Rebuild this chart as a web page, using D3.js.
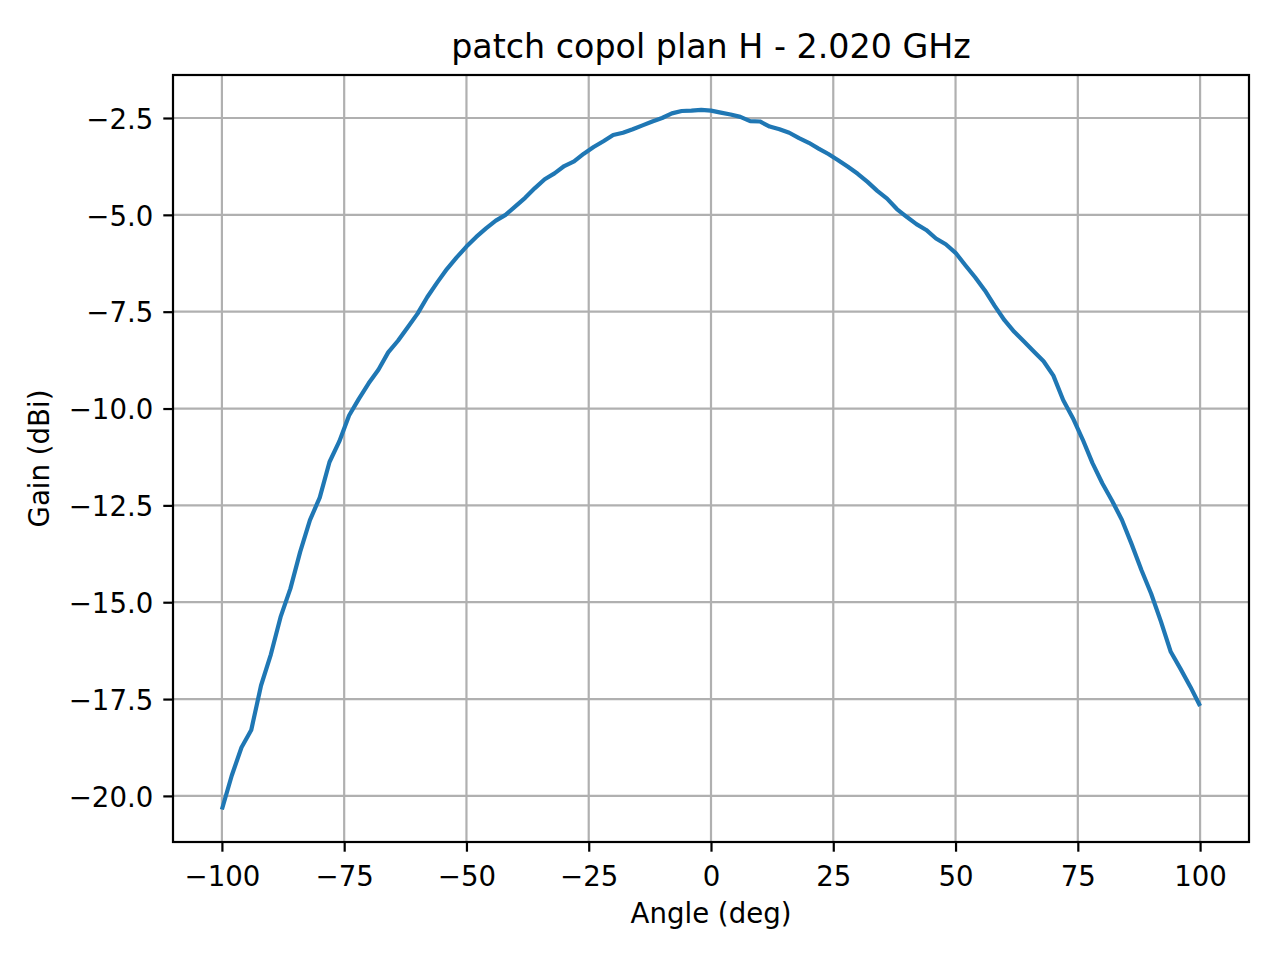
<!DOCTYPE html>
<html>
<head>
<meta charset="utf-8">
<script src="https://cdn.jsdelivr.net/npm/d3@7"></script>
<style>
  html, body { margin: 0; padding: 0; background: #fff; }
  svg { display: block; font-family: "DejaVu Sans", sans-serif; }
</style>
</head>
<body>
<svg id="chart" width="1280" height="960"></svg>
<script>
const angles = [
  -100, -98, -96, -94, -92, -90, -88, -86, -84, -82,
  -80, -78, -76, -74, -72, -70, -68, -66, -64, -62,
  -60, -58, -56, -54, -52, -50, -48, -46, -44, -42,
  -40, -38, -36, -34, -32, -30, -28, -26, -24, -22,
  -20, -18, -16, -14, -12, -10, -8, -6, -4, -2,
  0, 2, 4, 6, 8, 10, 12, 14, 16, 18,
  20, 22, 24, 26, 28, 30, 32, 34, 36, 38,
  40, 42, 44, 46, 48, 50, 52, 54, 56, 58,
  60, 62, 64, 66, 68, 70, 72, 74, 76, 78,
  80, 82, 84, 86, 88, 90, 92, 94, 96, 98, 100
];
const gains = [
  -20.35, -19.48, -18.75, -18.30, -17.15, -16.35, -15.38, -14.65, -13.70, -12.88,
  -12.30, -11.38, -10.85, -10.18, -9.75, -9.35, -9.00, -8.55, -8.25, -7.90,
  -7.55, -7.12, -6.75, -6.40, -6.10, -5.82, -5.57, -5.35, -5.15, -5.00,
  -4.78, -4.56, -4.31, -4.08, -3.93, -3.74, -3.62, -3.42, -3.25, -3.10,
  -2.94, -2.88, -2.79, -2.69, -2.59, -2.50, -2.38, -2.32, -2.31, -2.29,
  -2.31, -2.36, -2.41, -2.47, -2.58, -2.59, -2.72, -2.79, -2.88, -3.02,
  -3.14, -3.29, -3.43, -3.59, -3.76, -3.94, -4.15, -4.38, -4.58, -4.85,
  -5.05, -5.24, -5.39, -5.61, -5.76, -5.98, -6.30, -6.61, -6.95, -7.35,
  -7.72, -8.02, -8.27, -8.53, -8.78, -9.15, -9.78, -10.25, -10.80, -11.41,
  -11.93, -12.38, -12.87, -13.50, -14.17, -14.78, -15.50, -16.28, -16.72, -17.18, -17.68
];
const xTicks = [-100, -75, -50, -25, 0, 25, 50, 75, 100];
const yTicks = [-20.0, -17.5, -15.0, -12.5, -10.0, -7.5, -5.0, -2.5];
const xDomain = [-110, 110];
const yDomain = [-21.19, -1.39];
const titleText = "patch copol plan H - 2.020 GHz";
const xLabel = "Angle (deg)";
const yLabel = "Gain (dBi)";

const L = 173, R = 1249, T = 75, B = 842;
const svg = d3.select("#chart");
const x = d3.scaleLinear().domain(xDomain).range([L, R]);
const y = d3.scaleLinear().domain(yDomain).range([B, T]);
const fmtX = d => (d < 0 ? "\u2212" : "") + Math.abs(d);
const fmtY = d => (d < 0 ? "\u2212" : "") + Math.abs(d).toFixed(1);

// grid
const grid = svg.append("g");
grid.selectAll("line.gx").data(xTicks).join("line")
  .attr("x1", d => x(d)).attr("x2", d => x(d)).attr("y1", T).attr("y2", B)
  .attr("stroke", "#b0b0b0").attr("stroke-width", 2.2);
grid.selectAll("line.gy").data(yTicks).join("line")
  .attr("y1", d => y(d)).attr("y2", d => y(d)).attr("x1", L).attr("x2", R)
  .attr("stroke", "#b0b0b0").attr("stroke-width", 2.2);

// line
const pts = angles.map((a, i) => [a, gains[i]]);
svg.append("path").datum(pts)
  .attr("fill", "none").attr("stroke", "#1f77b4").attr("stroke-width", 4.2)
  .attr("stroke-linejoin", "round").attr("stroke-linecap", "butt")
  .attr("d", d3.line().x(d => x(d[0])).y(d => y(d[1])));

// axes
const xAxis = svg.append("g").attr("transform", `translate(0,${B})`)
  .call(d3.axisBottom(x).tickValues(xTicks).tickFormat(fmtX).tickSize(9.7).tickPadding(12).tickSizeOuter(0));
const yAxis = svg.append("g").attr("transform", `translate(${L},0)`)
  .call(d3.axisLeft(y).tickValues(yTicks).tickFormat(fmtY).tickSize(9.7).tickPadding(10).tickSizeOuter(0));
[xAxis, yAxis].forEach(g => {
  g.select(".domain").remove();
  g.selectAll(".tick line").attr("stroke", "#000").attr("stroke-width", 2.2);
  g.selectAll(".tick text").attr("fill", "#000")
    .style("font-family", "'DejaVu Sans', sans-serif").style("font-size", "27.6px");
});
xAxis.selectAll(".tick text").attr("dy", null).attr("y", 44);
yAxis.selectAll(".tick text").attr("dy", "0.37em");

// frame
svg.append("rect").attr("x", L).attr("y", T).attr("width", R - L).attr("height", B - T)
  .attr("fill", "none").attr("stroke", "#000").attr("stroke-width", 2.2);

// labels
svg.append("text").attr("x", (L + R) / 2).attr("y", 58).attr("text-anchor", "middle")
  .style("font-size", "33.3px").attr("fill", "#000").text(titleText);
svg.append("text").attr("x", (L + R) / 2).attr("y", 923).attr("text-anchor", "middle")
  .style("font-size", "27.6px").attr("fill", "#000").text(xLabel);
svg.append("text").attr("transform", `translate(49,${(T + B) / 2}) rotate(-90)`)
  .attr("text-anchor", "middle").style("font-size", "27.6px").attr("fill", "#000").text(yLabel);
</script>
</body>
</html>
